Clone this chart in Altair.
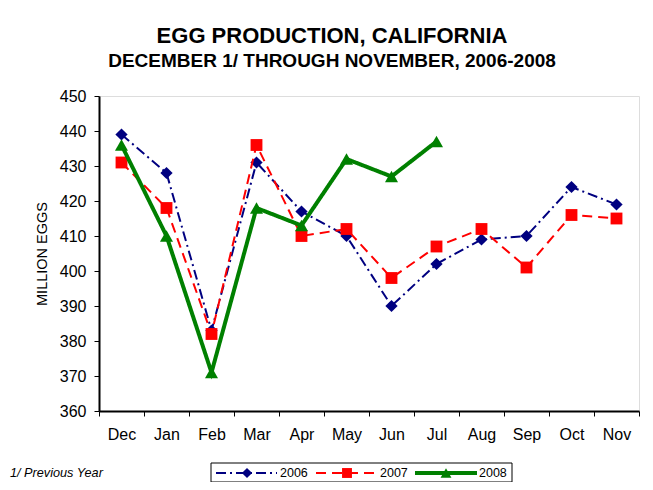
import altair as alt
import pandas as pd

months = ["Dec", "Jan", "Feb", "Mar", "Apr", "May", "Jun", "Jul", "Aug", "Sep", "Oct", "Nov"]
y2006 = [439, 428, 383, 431, 417, 410, 390, 402, 409, 410, 424, 419]
y2007 = [431, 418, 382, 436, 410, 412, 398, 407, 412, 401, 416, 415]
y2008 = [436, 410, 371, 418, 413, 432, 427, 437]
years = ["2006", "2007", "2008"]
series = [y2006, y2007, y2008]
colors = ["#000080", "#FF0000", "#008000"]
shapes = ["diamond", "square", "triangle-up"]
dashes = [[10, 4, 2, 4], [10, 6], [1, 0]]
widths = [2, 2, 4]
sizes = [150, 140, 170]

FONT = "Liberation Sans"
W, H = 540, 315

x_enc = alt.X(
    "month:N",
    sort=months,
    bandPosition=0.5,
    scale=alt.Scale(type="band", domain=months, paddingInner=0, paddingOuter=0),
    axis=alt.Axis(
        title=None, labelFontSize=16, labelFont=FONT, labelColor="black",
        tickBand="extent", tickSize=5, tickColor="black", labelPadding=10,
        domainColor="black", domainWidth=2, labelAngle=0,
    ),
)
y_enc = alt.Y(
    "value:Q",
    scale=alt.Scale(domain=[360, 450], nice=False, zero=False),
    axis=alt.Axis(
        title="MILLION EGGS", titleFont=FONT, titleFontSize=14.5, titleFontWeight="normal",
        titleColor="black", titlePadding=10, values=list(range(360, 451, 10)),
        labelFontSize=16, labelFont=FONT, labelColor="black", tickSize=5,
        tickColor="black", labelPadding=8, domainColor="black", domainWidth=2, grid=False,
    ),
)

layers = []
for yr, vals, c, sh, d, w, s in zip(years, series, colors, shapes, dashes, widths, sizes):
    df = pd.DataFrame({"month": months[: len(vals)], "value": vals, "year": yr})
    base = alt.Chart(df)
    layers.append(base.mark_line(color=c, strokeWidth=w, strokeDash=d).encode(x=x_enc, y=y_enc))
    layers.append(
        base.mark_point(color=c, shape=sh, filled=True, opacity=1, size=s).encode(x=x_enc, y=y_enc)
    )

dummy = pd.DataFrame({"a": [0]})
# legend box
lx0, lx1, ly0, ly1 = 112, 413, 367, 386
lyc = 377
layers.append(
    alt.Chart(dummy).mark_rect(fill="white", stroke="black", strokeWidth=1).encode(
        x=alt.value(lx0), x2=alt.value(lx1), y=alt.value(ly0), y2=alt.value(ly1)
    )
)
leg_pos = [(117, 178, 148, 181), (217, 276, 248, 281), (316, 378, 347, 380)]
for (a, b, m, t), yr, c, sh, d, w, s in zip(leg_pos, years, colors, shapes, dashes, widths, sizes):
    layers.append(
        alt.Chart(dummy).mark_rule(color=c, strokeWidth=w, strokeDash=d).encode(
            x=alt.value(a), x2=alt.value(b), y=alt.value(lyc)
        )
    )
    layers.append(
        alt.Chart(dummy).mark_point(color=c, shape=sh, filled=True, opacity=1, size=s * 0.7).encode(
            x=alt.value(m), y=alt.value(lyc)
        )
    )
    layers.append(
        alt.Chart(dummy).mark_text(align="left", baseline="middle", font=FONT, fontSize=12.5, color="black").encode(
            x=alt.value(t), y=alt.value(lyc), text=alt.value(yr)
        )
    )

layers.append(
    alt.Chart(dummy).mark_text(align="left", baseline="alphabetic", font=FONT, fontSize=12.7,
                               fontStyle="italic", color="black").encode(
        x=alt.value(-89), y=alt.value(381), text=alt.value("1/ Previous Year")
    )
)

chart = alt.layer(*layers).properties(
    width=W,
    height=H,
    autosize=alt.AutoSizeParams(type="none"),
    padding={"left": 91, "top": 88, "right": 6, "bottom": 71},
    title=alt.TitleParams(
        text="EGG PRODUCTION, CALIFORNIA",
        subtitle="DECEMBER 1/ THROUGH NOVEMBER, 2006-2008",
        anchor="middle", dx=-37, offset=16,
        font=FONT, fontSize=22, fontWeight="bold", color="black",
        subtitleFont=FONT, subtitleFontSize=19, subtitleFontWeight="bold",
        subtitleColor="black", subtitlePadding=4,
    ),
).configure_view(stroke="#333333", strokeWidth=1.5).configure(background="white")

chart.save("out.html", embed_options={"renderer": "svg", "actions": False})
